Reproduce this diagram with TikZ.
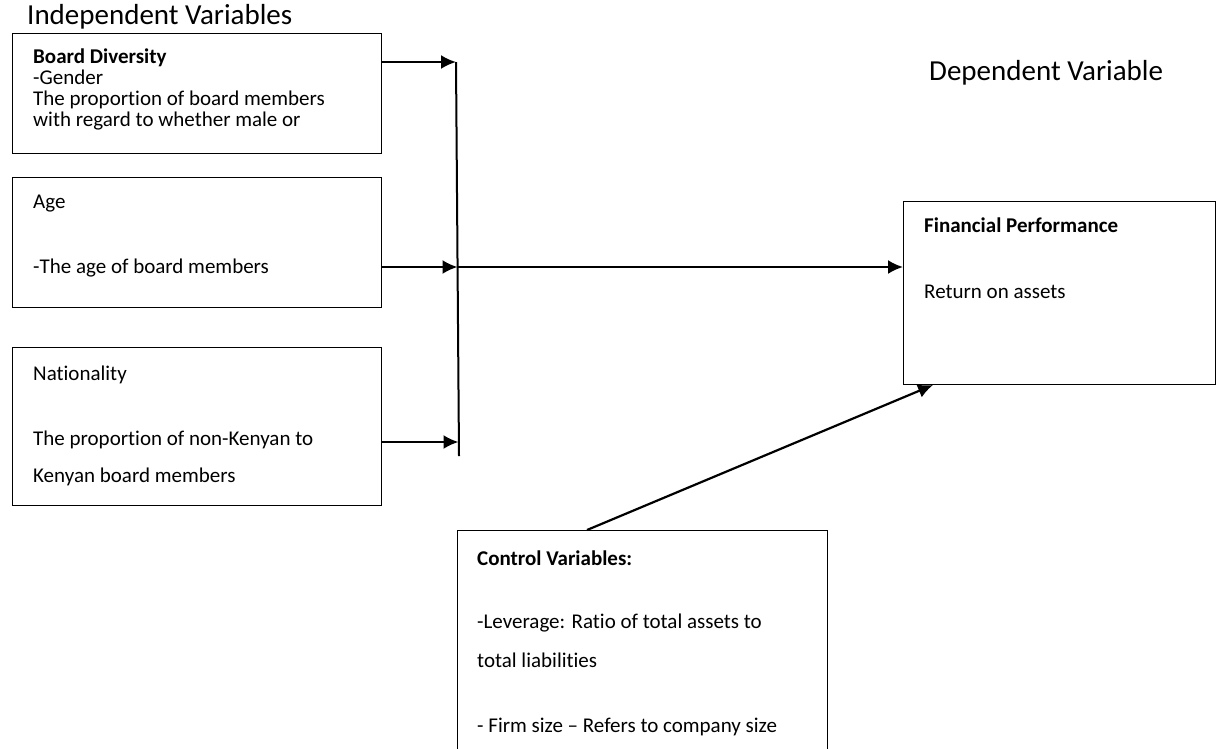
\documentclass[tikz,border=0pt]{standalone}
\usepackage{fontspec}
\setmainfont{Carlito}[Ligatures={NoCommon,NoRare,NoContextual},Contextuals=NoAlternate]
\usetikzlibrary{arrows.meta,positioning}

\begin{document}
\begin{tikzpicture}
                [x=1pt,y=-1pt,
                box/.style={draw,line width=1.4pt,inner sep=0pt,anchor=north west},
                txt/.style={anchor=base west,inner sep=0pt,font=\fontsize{21}{23}\selectfont},
                bold/.style={txt,font=\fontsize{21}{23}\selectfont\bfseries},
                head/.style={anchor=base west,inner sep=0pt,font=\fontsize{29}{33}\selectfont},
                edge/.style={-{Latex[length=15pt,width=14pt]},line width=2.2pt}
                ]
            \clip (0,0) rectangle (1221,748);
            \fill[white] (0,0) rectangle (1221,748);
            % headings
            \node[head] (indep) at (27,24) {Independent Variables};
            \node[head] (dep) at (929,80) {Dependent Variable};
            % boxes
            \node[box,minimum width=369pt,minimum height=120pt] (div) at (12,33) {};
            \node[box,minimum width=369pt,minimum height=130pt] (age) at (12,177) {};
            \node[box,minimum width=369pt,minimum height=158pt] (nat) at (12,347) {};
            \node[box,minimum width=312pt,minimum height=183pt] (fin) at (903,201) {};
            \node[box,minimum width=370pt,minimum height=260pt] (ctrl) at (457,530) {};
            % box texts
            \begin{scope}
            \clip (12,33) rectangle (381,142);
            \node[bold] (div1) at (33,63) {Board Diversity};
            \node[txt] (div2) at (33,84) {-Gender};
            \node[txt] (div3) at (33,105) {The propor{}tion of board members};
            \node[txt] (div4) at (33,126) {with regard to whether male or};
            \end{scope}
            \node[txt] (age1) at (33,208) {Age};
            \node[txt] (age2) at (33,273) {-The age of board members};
            \node[txt] (nat1) at (33,380) {Nationality};
            \node[txt] (nat2) at (33,445) {The proportion of non-Kenyan to};
            \node[txt] (nat3) at (33,482) {Kenyan board members};
            \node[bold] (fin1) at (924,232) {Financial Performance};
            \node[txt] (fin2) at (924,298) {Return on assets};
            \node[bold] (ctrl1) at (477,565) {Control Variables:};
            \node[txt] (ctrl2) at (477,628) {-Leverage: Ratio of total assets to};
            \node[txt] (ctrl3) at (477,667) {total liabilities};
            \node[txt] (ctrl4) at (477,732) {- Firm size -- Refers to company size};
            % junction bar
            \coordinate (bartop) at (456,62);
            \coordinate (barbot) at (459,456);
            \draw[line width=2pt] (bartop) -- (barbot);
            \coordinate (j1) at (456,62);
            \coordinate (j2) at (457.5,267);
            \coordinate (j3) at (458.5,442);
            \coordinate (cfrom) at (587,530);
            \coordinate (fto) at (933,385);
            \draw[edge] (div.east |- j1) -- (j1);
            \draw[edge] (age.east |- j2) -- (j2);
            \draw[edge] (nat.east |- j3) -- (j3);
            \draw[edge] (j2) -- (j2 -| fin.west);
            \draw[edge] (cfrom) -- (fto);
            \end{tikzpicture}
\end{document}
